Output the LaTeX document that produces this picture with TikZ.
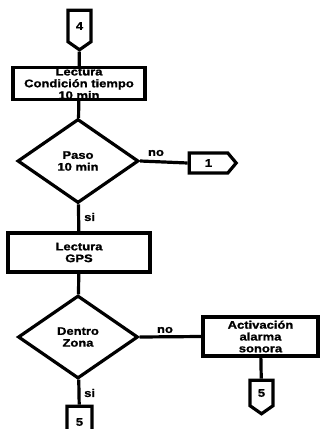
\documentclass[tikz,border=0pt]{standalone}
\usepackage{fontspec}
\newfontfamily\flowfont{Liberation Sans}[FakeStretch=1.18,BoldFeatures={FakeBold=1.2}]
\usepackage{tikz}
\usetikzlibrary{positioning,shapes.geometric,shapes.symbols}
\tikzset{
  flow/.style={line width=3.2pt,line join=miter},
  proc/.style={flow,draw,rectangle,inner sep=0pt,align=center},
  decide/.style={flow,draw,diamond,inner sep=0pt,align=center},
  offpage/.style={flow,draw,signal,inner sep=0pt,signal pointer angle=110},
  lbl/.style={inner sep=0pt},
  every node/.style={font=\flowfont\bfseries\fontsize{11}{11.8}\selectfont}
}

\begin{document}
\begin{tikzpicture}[x=1pt,y=-1pt]
  \useasboundingbox (0,0) rectangle (321,429);
  \clip (0,0) rectangle (321,429);

  % left column
  \node[offpage,signal to=south,minimum width=23pt,minimum height=34pt] (c4) at (79.5,26) {4};
  \node[proc,minimum width=132pt,minimum height=31pt] (leer) at (79,83.5) {Lectura\\Condición tiempo\\10 min};
  \node[decide,minimum width=121pt,minimum height=84pt] (paso) at (78,161) {Paso\\10 min};
  \node[proc,minimum width=142pt,minimum height=39pt] (gps) at (79,252.5) {Lectura\\GPS};
  \node[decide,minimum width=120pt,minimum height=83pt] (zona) at (78,337) {Dentro\\Zona};
  \node[offpage,signal to=south,minimum width=25pt,minimum height=34pt] (c5b) at (79.5,422) {5};

  % right side
  \node[offpage,signal to=east,minimum width=47pt,minimum height=20pt,signal pointer angle=100] (c1) at (208.5,163) {1};
  \node[proc,minimum width=115pt,minimum height=39pt] (alarma) at (260.5,336.5) {Activación\\alarma\\sonora};
  \node[offpage,signal to=south,minimum width=23pt,minimum height=28pt] (c5a) at (261.5,393) {5};

  % labels
  \node[lbl] (no1) at (156,153) {no};
  \node[lbl,anchor=west] (si1) at (84,217) {si};
  \node[lbl] (no2) at (165,330) {no};
  \node[lbl,anchor=west] (si2) at (84,393) {si};

  \draw[flow] (c4) -- (leer);
  \draw[flow] (leer) -- (paso);
  \draw[flow] (paso) -- (gps);
  \draw[flow] (gps) -- (zona);
  \draw[flow] (zona) -- (c5b);
  \draw[flow] (paso.east) -- (c1.west);
  \draw[flow] (zona.east) -- (alarma.west);
  \draw[flow] (alarma) -- (c5a);
\end{tikzpicture}
\end{document}
